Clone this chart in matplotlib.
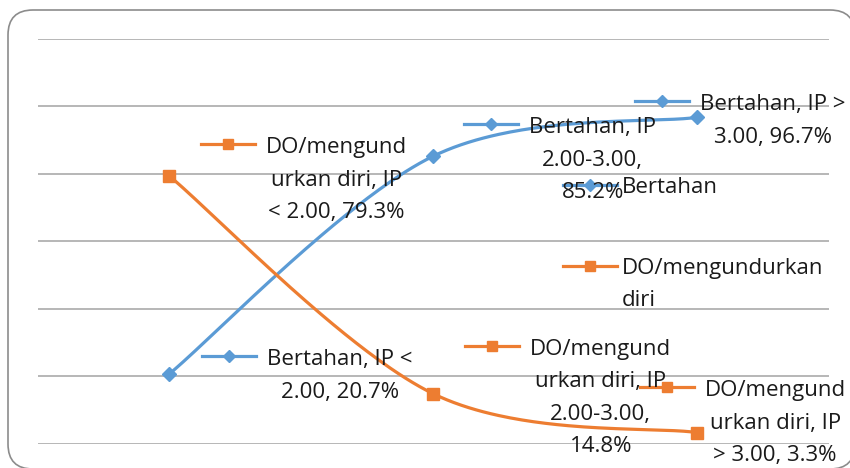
import matplotlib
matplotlib.use("Agg")
import matplotlib.pyplot as plt
from matplotlib.patches import FancyBboxPatch
from matplotlib.transforms import IdentityTransform
import numpy as np

# ---- data ----
categories = ["IP < 2.00", "IP 2.00-3.00", "IP > 3.00"]
series_names = ["Bertahan", "DO/mengundurkan diri"]
bertahan = [20.7, 85.2, 96.7]
mengundurkan = [79.3, 14.8, 3.3]
y_ticks = [0, 20, 40, 60, 80, 100, 120]

# ---- styling ----
W, H = 850, 468
FONT = "Open Sans"
FS = 16
TXT = "#1a1a1a"
colors = ["#5B9BD5", "#ED7D31"]
markers = ["D", "s"]
msizes = [7.5, 8.0]
LINE_STEP = 32.5

# label placement: (x offset of text centre, y offset of first baseline), pixels, +y downwards
label_offsets = [
    [(170.5, -8.4), (159.5, -22.9), (75.5, -7.3)],
    [(167.0, -22.8), (167.5, -39.0), (78.0, -36.3)],
]


def wrap_label(text, width=14, chunk=10):
    lines, cur = [], ""
    for word in text.split(" "):
        while len(word) > width:
            if cur:
                lines.append(cur)
                cur = ""
            lines.append(word[:chunk])
            word = word[chunk:]
        cand = f"{cur} {word}" if cur else word
        if len(cand) <= width:
            cur = cand
        else:
            lines.append(cur)
            cur = word
    if cur:
        lines.append(cur)
    return lines


def smooth(xs, ys, n=80):
    P = np.column_stack([xs, ys]).astype(float)
    ext = np.vstack([P[0], P, P[-1]])
    t = np.linspace(0, 1, n)[:, None]
    out = []
    for i in range(len(P) - 1):
        p0, p3 = P[i], P[i + 1]
        c1 = p0 + (ext[i + 2] - ext[i]) / 6
        c2 = p3 - (ext[i + 3] - ext[i + 1]) / 6
        seg = ((1 - t) ** 3) * p0 + 3 * ((1 - t) ** 2) * t * c1 + 3 * (1 - t) * t ** 2 * c2 + t ** 3 * p3
        out.append(seg if i == 0 else seg[1:])
    return np.vstack(out)


fig = plt.figure(figsize=(W / 100, H / 100), dpi=100)
fig.patch.set_facecolor("white")

# rounded chart border (filled so the renderer keeps the corner curves intact)
frame = FancyBboxPatch((8, -1), 847, 459, boxstyle="round,pad=0,rounding_size=25",
                       transform=IdentityTransform(), facecolor="white",
                       edgecolor="#8c8c8c", lw=1.2, zorder=-1)
fig.add_artist(frame)

ax = fig.add_axes([37.5 / W, 24.3 / H, 791.5 / W, 405 / H])
ax.set_zorder(1)
ax.set_xlim(-0.5, 2.5)
ax.set_ylim(0, 120)
ax.set_yticks(y_ticks)
ax.set_xticks([])
ax.tick_params(axis="y", length=0, labelleft=False)
for sp in ax.spines.values():
    sp.set_visible(False)
ax.grid(axis="y", color="#a3a3a3", lw=1.1)
ax.set_axisbelow(True)
ax.patch.set_alpha(0)

x = np.arange(len(categories))
all_series = [bertahan, mengundurkan]
for vals, c, m, ms in zip(all_series, colors, markers, msizes):
    curve = smooth(x, vals)
    ax.plot(curve[:, 0], curve[:, 1], color=c, lw=2.3, solid_capstyle="round", zorder=3)
    ax.plot(x, vals, linestyle="none", marker=m, ms=ms, color=c, zorder=4)

fig.canvas.draw()
renderer = fig.canvas.get_renderer()
inv = ax.transData.inverted()


def draw_key(xr_disp, y_disp, color, marker, ms):
    (x0, y0), (x1, _) = inv.transform([(xr_disp - 54, y_disp), (xr_disp, y_disp)])
    ax.plot([x0, x1], [y0, y0], color=color, lw=2.3, clip_on=False, zorder=5)
    ax.plot([(x0 + x1) / 2], [y0], marker=marker, ms=ms, color=color,
            clip_on=False, zorder=6)


for s, (name, vals) in enumerate(zip(series_names, all_series)):
    for i, (cat, v) in enumerate(zip(categories, vals)):
        lines = wrap_label(f"{name}, {cat}, {v:.1f}%")
        dx, dy = label_offsets[s][i]
        first = None
        for k, line in enumerate(lines):
            t = ax.annotate(line, xy=(i, v), xytext=(dx, -(dy + k * LINE_STEP)),
                            textcoords="offset pixels", ha="center", va="baseline",
                            fontsize=FS, family=FONT, color=TXT,
                            annotation_clip=False, zorder=7)
            if k == 0:
                first = t
        bb = first.get_window_extent(renderer)
        px, py = ax.transData.transform((i, v))
        draw_key(bb.x0 - 11, py - dy + 9, colors[s], markers[s], msizes[s] - 1)

# legend
leg_lines = [wrap_label(series_names[0], width=15), wrap_label(series_names[1], width=15)]
leg_base = [193.3, 274.0]
for s, (lines, yb) in enumerate(zip(leg_lines, leg_base)):
    for k, line in enumerate(lines):
        fig.text(622 / W, 1 - (yb + k * 31.7) / H, line, ha="left", va="baseline",
                 fontsize=FS, family=FONT, color=TXT, zorder=8)
    ydisp = H - (yb - 8.5)
    draw_key(617, ydisp, colors[s], markers[s], msizes[s] - 1)

fig.savefig("out.png", dpi=100, facecolor="white")
